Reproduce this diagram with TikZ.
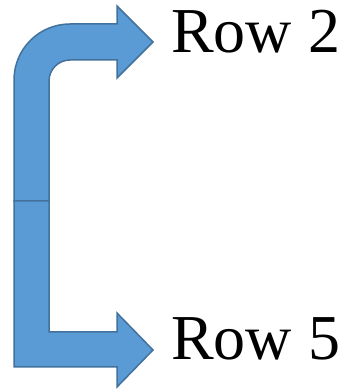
\documentclass[tikz,border=0pt]{standalone}
\usepackage{fontspec}
\setmainfont{Liberation Serif}
\begin{document}
\begin{tikzpicture}[x=1pt,y=1pt,
  barrow/.style={fill={rgb,255:red,91;green,155;blue,213}, draw={rgb,255:red,65;green,113;blue,156}, line width=1.5pt, line join=miter},
  rowlabel/.style={anchor=base west, inner sep=0pt, font=\fontsize{64}{70}\selectfont}]
\useasboundingbox (0,0) rectangle (348,389);
% top bent arrow
\draw[barrow] (14,188) -- (14,309) arc[start angle=180, end angle=90, radius=56pt]
  -- (117,365) -- (117,383) -- (153,347) -- (117,311) -- (117,329) -- (70,329)
  arc[start angle=90, end angle=180, radius=21pt] -- (49,188) -- cycle;
% bottom bent arrow
\draw[barrow] (14,188) -- (14,22) -- (117,22) -- (117,2) -- (153,39) -- (117,76)
  -- (117,57) -- (49,57) -- (49,188) -- cycle;
\node[rowlabel] (row2) at (171,336) {Row 2};
\node[rowlabel] (row5) at (171,29) {Row 5};
\end{tikzpicture}
\end{document}
